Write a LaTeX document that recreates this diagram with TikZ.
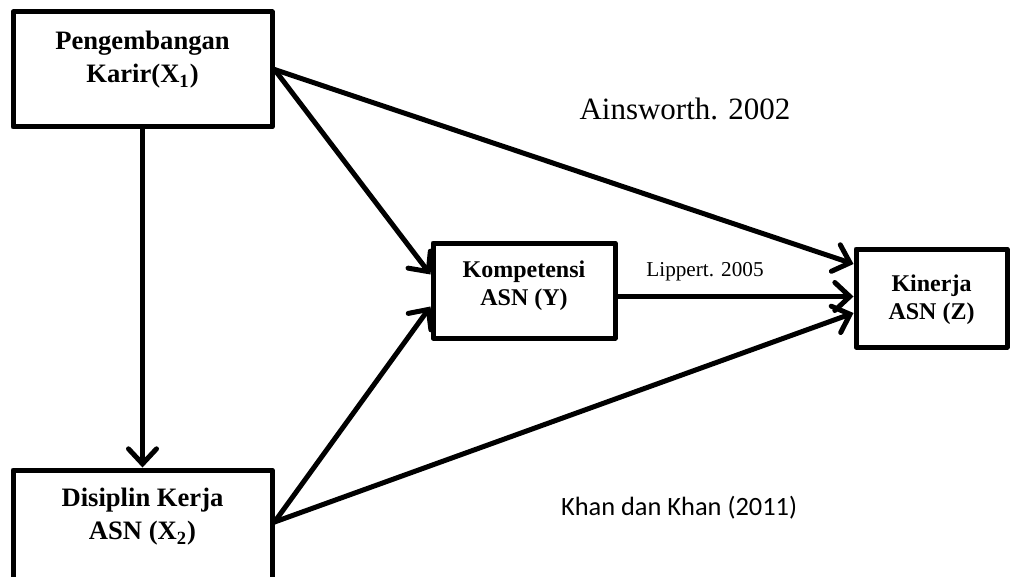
\documentclass[tikz,border=0pt]{standalone}
\usepackage{fontspec}
\setmainfont{Liberation Serif}
\newfontfamily\carlito{Carlito}
\usetikzlibrary{arrows.meta}

\begin{document}
\begin{tikzpicture}[x=0.5pt,y=-0.5pt,>={Straight Barb[length=7.5pt,width=14pt,line cap=round]},line cap=round,line join=round]
\clip (0,0) rectangle (1010,577);
\tikzset{
  box/.style={draw,line width=2.5pt,inner sep=0pt},
  bigtext/.style={align=center,font=\fontsize{13.3}{16.5}\selectfont\bfseries},
  smalltext/.style={align=center,font=\fontsize{12}{14}\selectfont\bfseries},
  link/.style={->,line width=2.5pt}
}
\node[box,minimum width=129.5pt,minimum height=57.5pt] (x1) at (142.5,69.5) {};
\node[bigtext] (x1t) at (142.5,60) {Pengembangan\\Karir(X\textsubscript{1})};
\node[box,minimum width=129.5pt,minimum height=65pt] (x2) at (142.5,535) {};
\node[bigtext] (x2t) at (142.5,517) {Disiplin Kerja\\ASN (X\textsubscript{2})};
\node[box,minimum width=91pt,minimum height=47.5pt] (y) at (524,290.5) {};
\node[smalltext] (yt) at (524,285.5) {Kompetensi\\ASN (Y)};
\node[box,minimum width=75.5pt,minimum height=49pt] (z) at (931.5,298) {};
\node[smalltext] (zt) at (931.5,300) {Kinerja\\ASN (Z)};
\draw[link] (x1.south) -- (x1.south |- x2.north);
\draw[link] (x1.east) -- ([yshift=17pt]z.west);
\draw[link] (x1.east) -- ([yshift=8pt]y.west);
\draw[link] ([yshift=6.5pt]x2.east) -- ([yshift=-8pt]y.west);
\draw[link] ([yshift=6.5pt]x2.east) -- ([yshift=-7.5pt]z.west);
\draw[link] ([yshift=-3pt]y.east) -- ([yshift=-3pt]y.east -| z.west);
\node[anchor=base,font=\fontsize{15.5}{18}\selectfont] (ref1) at (685,120) {Ainsworth. 2002};
\node[anchor=base,font=\fontsize{10.6}{12}\selectfont] (ref2) at (705,276) {Lippert. 2005};
\node[anchor=base west,font=\carlito\fontsize{13.2}{15}\selectfont] (ref3) at (554,515) {Khan dan Khan (2011)};
\end{tikzpicture}
\end{document}
